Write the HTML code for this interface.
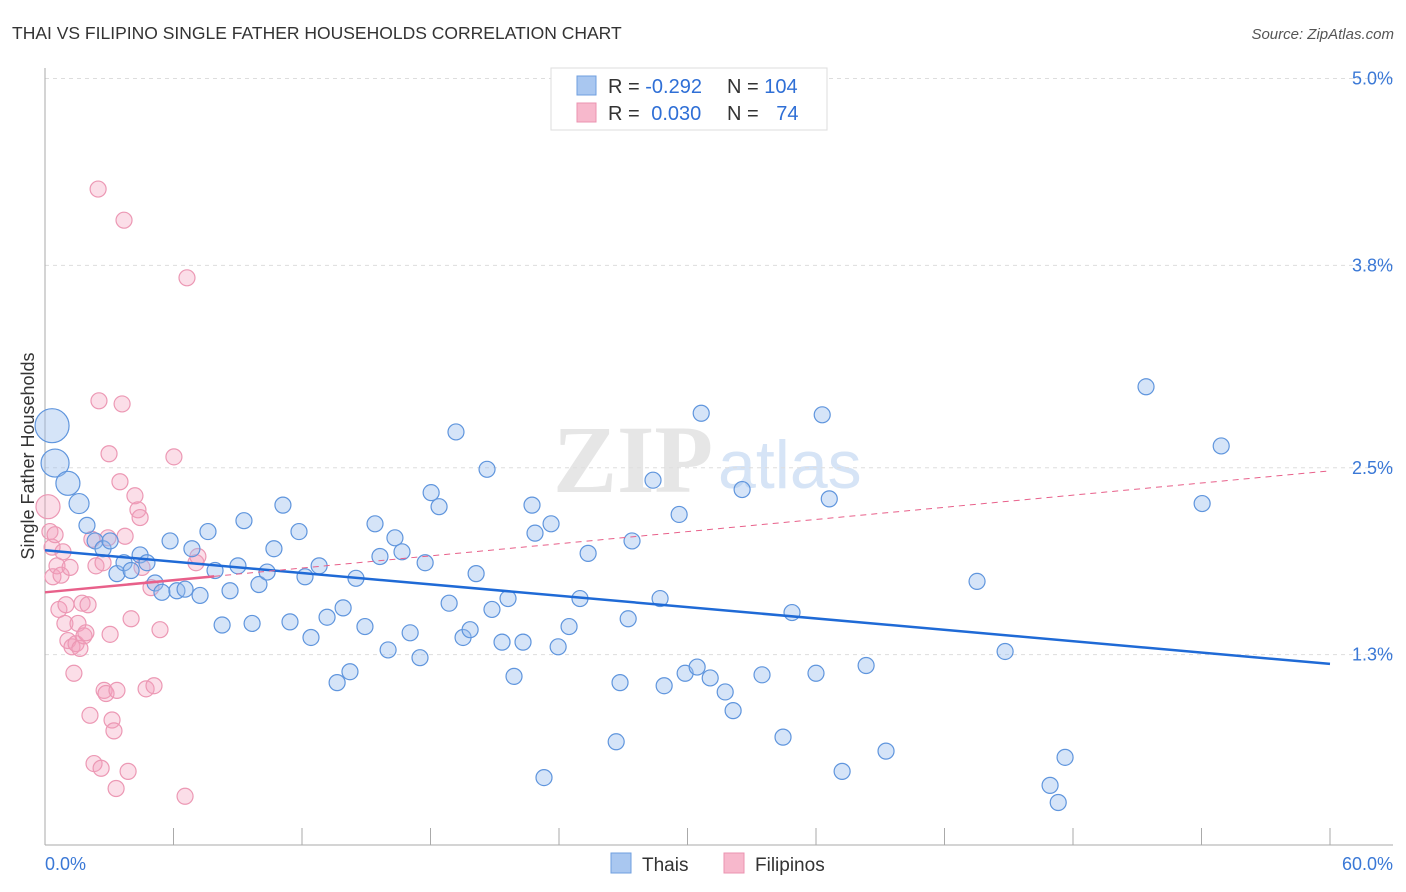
<!DOCTYPE html>
<html><head><meta charset="utf-8"><style>
body{margin:0;background:#fff;font-family:"Liberation Sans",sans-serif;}
svg{display:block}
</style></head><body>
<svg id="chart" width="1406" height="892">
<text x="12" y="39" font-size="17.5" fill="#333">THAI VS FILIPINO SINGLE FATHER HOUSEHOLDS CORRELATION CHART</text>
<text x="1394" y="39" font-size="15" fill="#555" font-style="italic" text-anchor="end">Source: ZipAtlas.com</text>
<g>
<text x="553" y="492" font-size="96" fill="#e6e6e6" font-family="Liberation Serif,serif" font-weight="bold">ZIP</text>
<text x="718" y="488" font-size="68" fill="#d6e4f6">atlas</text>
</g>
<g id="grid"></g>
<g id="axes"></g>
<g id="pts"></g>
<g id="trend"></g>
<text transform="translate(34,456) rotate(-90)" font-size="18" fill="#333" text-anchor="middle">Single Father Households</text>
<g>
<rect x="551" y="68" width="276" height="62" fill="#fff" stroke="#ddd"/>
<rect x="577" y="76" width="19" height="19" fill="#a9c7f0" stroke="#6f9fdf"/>
<rect x="577" y="103" width="19" height="19" fill="#f7b8cc" stroke="#eb93b0"/>
<text x="608" y="93" font-size="20" fill="#333">R = <tspan fill="#2f6fd6">-0.292</tspan></text>
<text x="727" y="93" font-size="20" fill="#333">N = <tspan fill="#2f6fd6">104</tspan></text>
<text x="608" y="120" font-size="20" fill="#333">R = <tspan fill="#2f6fd6" dx="6">0.030</tspan></text>
<text x="727" y="120" font-size="20" fill="#333">N = <tspan fill="#2f6fd6" dx="12">74</tspan></text>
</g>
<g>
<rect x="611" y="853" width="20" height="20" fill="#a9c7f0" stroke="#6f9fdf"/>
<text x="642" y="871" font-size="19" fill="#333">Thais</text>
<rect x="724" y="853" width="20" height="20" fill="#f7b8cc" stroke="#eb93b0"/>
<text x="755" y="871" font-size="19" fill="#333">Filipinos</text>
</g>
</svg>
<script>
const yTicks=[5.0,3.8,2.5,1.3];
const yTickLabels=["5.0%","3.8%","2.5%","1.3%"];
const xTickLabels=["0.0%","60.0%"];
const blueX=[0.33,0.47,1.07,1.59,1.96,2.34,2.71,3.04,3.36,3.69,4.02,4.44,4.76,5.14,5.46,5.84,6.16,6.54,6.86,7.24,7.61,7.94,8.27,8.64,9.01,9.29,9.67,9.99,10.37,10.69,11.11,11.44,11.86,12.14,12.42,12.80,13.17,13.64,13.92,14.24,14.52,14.94,15.41,15.64,16.02,16.34,16.67,17.05,17.51,17.75,18.03,18.40,18.87,19.19,19.52,19.85,20.13,20.64,20.87,21.34,21.62,21.90,22.32,22.74,22.88,23.30,23.63,23.96,24.47,24.98,25.36,26.67,26.85,27.23,27.41,28.39,28.72,28.91,29.61,29.89,30.45,30.64,31.06,31.76,32.13,32.55,33.48,34.46,34.88,36.00,36.29,36.62,37.22,38.34,39.27,43.52,44.83,46.93,47.31,47.63,51.41,54.03,54.92];
const blueY=[2.77,2.53,2.40,2.27,2.13,2.03,1.98,2.03,1.82,1.89,1.84,1.94,1.89,1.76,1.70,2.03,1.71,1.72,1.98,1.68,2.09,1.84,1.49,1.71,1.87,2.16,1.50,1.75,1.83,1.98,2.26,1.51,2.09,1.80,1.41,1.87,1.54,1.12,1.60,1.19,1.79,1.48,2.14,1.93,1.33,2.05,1.96,1.44,1.28,1.89,2.34,2.25,1.63,2.73,1.41,1.46,1.82,2.49,1.59,1.38,1.66,1.16,1.38,2.26,2.08,0.51,2.14,1.35,1.48,1.66,1.95,0.74,1.12,1.53,2.03,2.42,1.66,1.10,2.20,1.18,1.22,2.85,1.15,1.06,0.94,2.36,1.17,0.77,1.57,1.18,2.84,2.30,0.55,1.23,0.68,1.77,1.32,0.46,0.35,0.64,3.02,2.27,2.64];
const blueR=[17,14,12,10];
const pinkX=[0.14,0.23,0.33,0.37,0.47,0.56,0.65,0.75,0.84,0.93,0.98,1.07,1.17,1.26,1.35,1.45,1.54,1.63,1.73,1.82,1.91,2.01,2.10,2.19,2.29,2.38,2.48,2.52,2.62,2.71,2.76,2.85,2.94,2.99,3.04,3.13,3.22,3.32,3.36,3.50,3.60,3.69,3.74,3.88,4.02,4.20,4.34,4.44,4.53,4.72,4.95,5.09,5.37,6.02,6.54,6.63,7.05,7.14];
const pinkY=[2.25,2.09,1.99,1.80,2.07,1.87,1.59,1.81,1.96,1.50,1.62,1.39,1.86,1.35,1.18,1.37,1.50,1.34,1.63,1.42,1.44,1.62,0.91,2.04,0.60,1.87,4.29,2.93,0.57,1.89,1.07,1.05,2.05,2.59,1.43,0.88,0.81,0.44,1.07,2.41,2.91,4.09,2.06,0.55,1.53,2.32,2.23,2.18,1.86,1.08,1.73,1.10,1.46,2.57,0.39,3.72,1.89,1.93];
const pinkR=[12];
const blueTrend=[1.97,1.24];
const pinkTrend=[1.70,2.48];
const pinkSolidEnd=7.9;
const NS="http://www.w3.org/2000/svg";
const X0=45,X1=1330,YB=857,YS=155.7;
function sx(v){return X0+v/60*(X1-X0);}
function sy(v){return YB-v*YS;}
function mk(tag,attrs,parent){const e=document.createElementNS(NS,tag);for(const k in attrs)e.setAttribute(k,attrs[k]);parent.appendChild(e);return e;}
const grid=document.getElementById('grid'),axes=document.getElementById('axes'),pts=document.getElementById('pts'),tr=document.getElementById('trend');
yTicks.forEach((t,i)=>{
 const l=mk('line',{x1:45,x2:1393,y1:sy(t),y2:sy(t),stroke:'#ddd','stroke-dasharray':'4,4'},grid);
 
 
 const tx=mk('text',{x:1393,y:sy(t)+6,'font-size':18,fill:'#3a78d6','text-anchor':'end'},axes);
 tx.textContent=yTickLabels[i];
 
 
});
let a=mk('line',{x1:45,x2:45,y1:68,y2:845,stroke:'#aaa'},axes);


a=mk('line',{x1:45,x2:1393,y1:845,y2:845,stroke:'#aaa'},axes);


for(let i=0;i<=10;i++){
 const t=mk('line',{x1:sx(i*6),x2:sx(i*6),y1:828,y2:845,stroke:'#aaa'},axes);
 
 
}
let xl=mk('text',{x:45,y:870,'font-size':18,fill:'#3a78d6'},axes);xl.textContent=xTickLabels[0];


xl=mk('text',{x:1393,y:870,'font-size':18,fill:'#3a78d6','text-anchor':'end'},axes);xl.textContent=xTickLabels[1];


pinkX.forEach((x,i)=>{
 const c=mk('circle',{cx:sx(x),cy:sy(pinkY[i]),r:pinkR[i]||8,fill:'rgba(244,160,188,0.35)',stroke:'#ec98b4','stroke-width':1.2},pts);
 
 
});
blueX.forEach((x,i)=>{
 const c=mk('circle',{cx:sx(x),cy:sy(blueY[i]),r:blueR[i]||8,fill:'rgba(150,188,238,0.4)',stroke:'#5f95dd','stroke-width':1.2},pts);
 
 
});
let ln=mk('line',{x1:sx(0),y1:sy(blueTrend[0]),x2:sx(60),y2:sy(blueTrend[1]),stroke:'#1f6ad6','stroke-width':2.5},tr);


const pAt=v=>pinkTrend[0]+(pinkTrend[1]-pinkTrend[0])*v/60;
ln=mk('line',{x1:sx(0),y1:sy(pinkTrend[0]),x2:sx(pinkSolidEnd),y2:sy(pAt(pinkSolidEnd)),stroke:'#e8608a','stroke-width':2.5},tr);


ln=mk('line',{x1:sx(pinkSolidEnd),y1:sy(pAt(pinkSolidEnd)),x2:sx(60),y2:sy(pinkTrend[1]),stroke:'#e8608a','stroke-width':1,'stroke-dasharray':'6,5'},tr);


</script>
</body></html>
